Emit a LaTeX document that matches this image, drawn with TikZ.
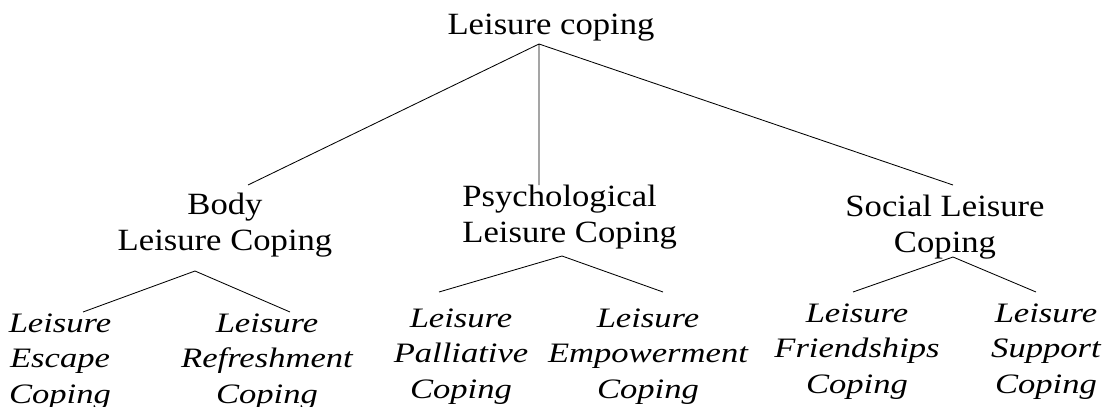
\documentclass[tikz,border=0pt]{standalone}
\usepackage{fontspec}
\setmainfont{Liberation Serif}[FakeStretch=1.12]
\newfontfamily\leaffont{Liberation Serif}[FakeStretch=1.23]
\usepackage{tikz}

\begin{document}
\begin{tikzpicture}[x=0.025cm,y=-0.025cm,line width=0.6pt,
	head/.style={align=center,inner sep=0pt,anchor=base,font=\fontsize{22}{24.9}\selectfont},
	leaf/.style={head,font=\leaffont\fontsize{20}{24.9}\selectfont\itshape}]
	\useasboundingbox (0,0) rectangle (1106,407);

	\node[head] (root) at (551,35) {Leisure coping};
	\node[head] (body) at (225,250) {Body\\Leisure Coping};
	\node[head,align=left,anchor=base west] (psych) at (462,242) {Psychological\\Leisure Coping};
	\node[head] (social) at (945,252) {Social Leisure\\Coping};

	\node[leaf] (escape) at (60,403) {Leisure\\Escape\\Coping};
	\node[leaf] (refresh) at (267,403) {Leisure\\Refreshment\\Coping};
	\node[leaf] (palliative) at (461,398) {Leisure\\Palliative\\Coping};
	\node[leaf] (empower) at (648,398) {Leisure\\Empowerment\\Coping};
	\node[leaf] (friend) at (857,393) {Leisure\\Friendships\\Coping};
	\node[leaf] (support) at (1046,393) {Leisure\\Support\\Coping};

	\coordinate (rootfork) at (539,44);
	\coordinate (bodyin) at (248,185);
	\coordinate (psychin) at (539,185);
	\coordinate (socialin) at (953,185);
	\coordinate (bodyfork) at (195,271);
	\coordinate (psychfork) at (562,256);
	\coordinate (socialfork) at (953,257);
	\coordinate (escapein) at (83,312);
	\coordinate (refreshin) at (290,312);
	\coordinate (palliativein) at (439,292);
	\coordinate (empowerin) at (663,292);
	\coordinate (friendin) at (853,292);
	\coordinate (supportin) at (1036,292);

	\draw (rootfork) -- (bodyin)
		(rootfork) -- (psychin)
		(rootfork) -- (socialin);
	\draw (escapein) -- (bodyfork) -- (refreshin);
	\draw (palliativein) -- (psychfork) -- (empowerin);
	\draw (friendin) -- (socialfork) -- (supportin);
\end{tikzpicture}
\end{document}
